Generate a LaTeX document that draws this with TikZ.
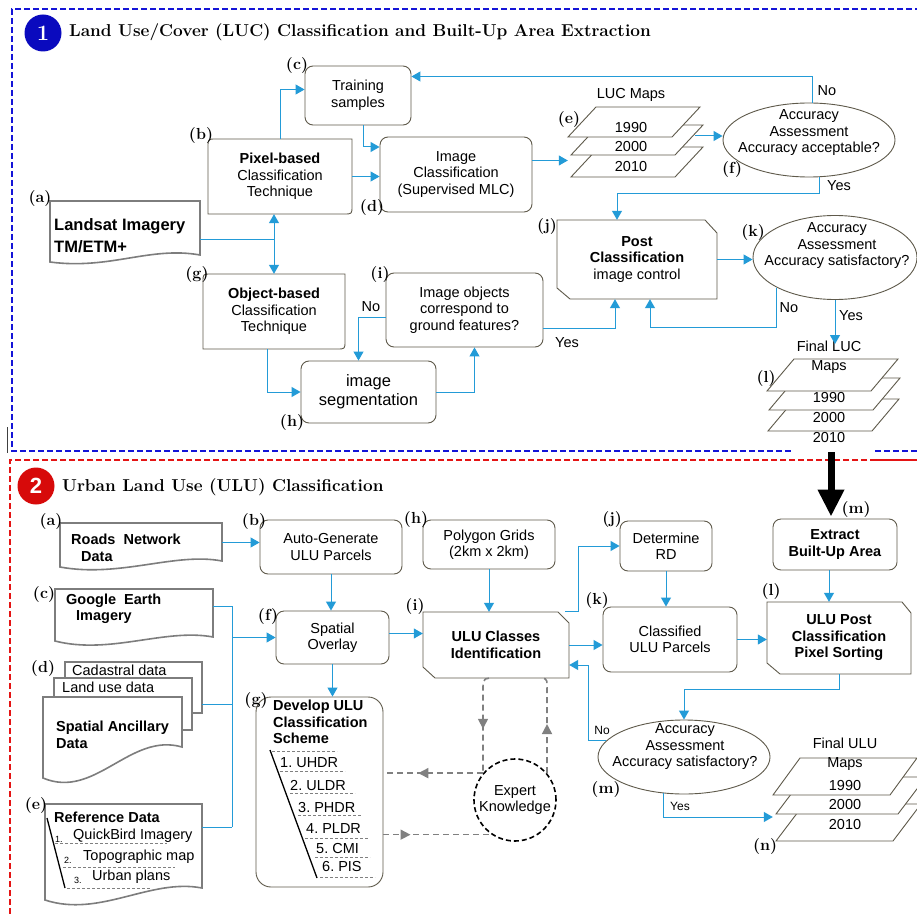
\documentclass[tikz,border=0pt]{standalone}
\usepackage{fontspec}
\newfontfamily\sansf{Liberation Sans}
\usetikzlibrary{arrows.meta,shapes.geometric,decorations.markings}
\definecolor{linec}{RGB}{35,155,215}
\definecolor{boxc}{RGB}{95,90,75}
\definecolor{docc}{RGB}{125,125,125}
\definecolor{gdc}{RGB}{128,128,128}
\definecolor{fblue}{RGB}{20,20,215}
\definecolor{fred}{RGB}{228,20,20}
\definecolor{cblue}{RGB}{10,10,190}
\definecolor{cred}{RGB}{215,10,10}
\newcommand\bodyf{\sansf\fontsize{14.5}{16.5}\selectfont}
\newcommand\smallf{\sansf\fontsize{12}{14}\selectfont}
\newcommand\tinyf{\sansf\fontsize{9}{10}\selectfont}
\newcommand\labf{\rmfamily\bfseries\fontsize{16}{16}\selectfont}
\newcommand\titf{\rmfamily\bfseries\fontsize{17.2}{20}\selectfont}
\newcommand\mypara[5]{\draw[boxline] (#1,#2) -- ++(#3,0) -- ++(#4,-#5) -- ++(-#3,0) -- cycle;}
\tikzset{
  boxline/.style={draw=boxc, line width=0.9pt, fill=white},
  box/.style={boxline, rounded corners=8pt, align=center, font=\bodyf, inner sep=0pt},
  plain/.style={align=center, font=\bodyf, inner sep=0pt},
  txt/.style={font=\bodyf, inner sep=0pt, align=center},
  ltxt/.style={font=\bodyf, inner sep=0pt, align=left, anchor=west},
  lab/.style={font=\labf, inner sep=0pt},
  ell/.style={draw=boxc, line width=0.9pt, fill=white, ellipse, inner sep=0pt},
  docline/.style={draw=docc, line width=1.6pt, fill=white},
  conn/.style={draw=linec, line width=1pt},
  arr/.style={conn, -{Triangle[length=9pt,width=10pt]}},
  gd/.style={draw, color=gdc, line width=1.6pt, dash pattern=on 6pt off 4pt},
  gmid/.style={postaction={decorate,decoration={markings,mark=at position #1 with {\arrow{Triangle[length=10pt,width=10pt]}}}}},
  listdash/.style={draw=gray, line width=0.6pt, dash pattern=on 3pt off 2pt},
  diag/.style={draw=black, line width=1.3pt},
  bfrm/.style={draw=fblue, line width=1.8pt, dash pattern=on 6pt off 3pt},
  rfrm/.style={draw=fred, line width=1.8pt, dash pattern=on 6pt off 3pt},
}
\begin{document}
\begin{tikzpicture}[x=1pt,y=-1pt]
\useasboundingbox (0,0) rectangle (917,917);
\clip (0,0) rectangle (917,917);
\fill[white] (0,0) rectangle (917,917);
% frames
\draw[bfrm] (930,9) -- (12,9) -- (12,451) -- (793,451);
\draw[bfrm] (875,451) -- (930,451);
\draw[rfrm] (930,460) -- (10,460) -- (10,930);
\draw[rfrm] (875,460) -- (930,460);
\draw[black!75, line width=0.7pt] (7,427) -- (7,453);
% titles
\node[circle, fill=cblue, minimum size=37pt, inner sep=0pt, text=white, font=\rmfamily\bfseries\fontsize{22}{22}\selectfont] (c1) at (43,33) {1};
\node[anchor=west, font=\titf, inner sep=0pt] (t1) at (69,32) {Land Use/Cover (LUC) Classification and Built-Up Area Extraction};
\node[circle, fill=cred, minimum size=37pt, inner sep=0pt, text=white, font=\sansf\bfseries\fontsize{22}{22}\selectfont] (c2) at (36,486) {2};
\node[anchor=west, font=\titf, inner sep=0pt] (t2) at (62,487) {Urban Land Use (ULU) Classification};

% ================= SECTION 1 =================
\node[box, minimum width=106pt, minimum height=59pt] (train) at (358,95.5) {Training\\samples};
\draw[boxline] (208,147) .. controls (208,139) .. (216,139) -- (352,139) -- (352,206) .. controls (352,214) .. (344,214) -- (208,214) -- cycle;
\node[plain, minimum width=144pt, minimum height=75pt] (pix) at (280,176.5) {\textbf{Pixel-based}\\Classification\\Technique};
\node[box, minimum width=152pt, minimum height=75pt] (imgc) at (456,174.5) {Image\\Classification\\(Supervised MLC)};
\mypara{571}{177}{104}{28}{30}
\mypara{571}{155}{104}{28}{30}
\mypara{568}{137}{104}{28}{30}
\node[plain, minimum width=135pt, minimum height=70pt] (lucmaps) at (635.5,142) {};
\node[txt] (lucmapsT) at (631,95) {LUC Maps};
\node[txt] (l90) at (631,128) {1990};
\node[txt] (l00) at (631,147) {2000};
\node[txt] (l10) at (631,167) {2010};
\node[ell, minimum width=172pt, minimum height=74pt] (accf) at (809,140) {};
\node[txt] (accfT) at (809,133) {Accuracy\\Assessment\\Accuracy acceptable?};
% Landsat
\draw[docline] (50,201) -- (200,201) -- (200,255) .. controls (150,246) and (110,270) .. (50,262) -- cycle;
\node[plain, minimum width=150pt, minimum height=54pt] (landsat) at (125,228) {};
\node[ltxt, font=\sansf\bfseries\fontsize{16.5}{22}\selectfont] (landsatT) at (54,236) {Landsat Imagery\\TM/ETM+};
% object based
\draw[boxline] (203,282) .. controls (203,274) .. (211,274) -- (345,274) -- (345,341) .. controls (345,349) .. (337,349) -- (203,349) -- cycle;
\node[plain, minimum width=142pt, minimum height=75pt] (obj) at (274,311.5) {\textbf{Object-based}\\Classification\\Technique};
\node[box, minimum width=135pt, minimum height=62pt, font=\sansf\fontsize{16.5}{19}\selectfont] (seg) at (368.5,392) {image\\segmentation};
\node[box, minimum width=157pt, minimum height=74pt] (imgobj) at (464.5,310) {Image objects\\correspond to\\ground features?};
\draw[boxline] (557,220) -- (705,220) -- (717,233) -- (717,299) -- (570,299) -- (557,288) -- cycle;
\node[plain, minimum width=160pt, minimum height=79pt] (post) at (637,259.5) {\textbf{Post}\\\textbf{Classification}\\image control};
\node[ell, minimum width=164pt, minimum height=84pt] (acck) at (835,257.5) {};
\node[txt] (acckT) at (837,246) {Accuracy\\Assessment\\Accuracy satisfactory?};
% final LUC maps
\mypara{768}{431}{104}{27}{32}
\mypara{769}{410}{104}{27}{32}
\mypara{767}{391}{104}{27}{32}
\node[plain, minimum width=133pt, minimum height=72pt] (flucmaps) at (833,395) {};
\node[txt] (flucT) at (829,357.5) {Final LUC\\[2.5pt]Maps};
\node[txt] (f90) at (829,398) {1990};
\node[txt] (f00) at (829,418) {2000};
\node[txt] (f10) at (829,438) {2010};

% connectors section 1
\draw[arr] ([xshift=0pt]pix.north) |- ([yshift=6pt]train.west);
\draw[arr] ([xshift=5pt]train.south) |- ([yshift=27.5pt]imgc.west);
\draw[arr] (pix.east) -- (pix.east -| imgc.west);
\coordinate (ie) at ([yshift=14pt]imgc.east);
\draw[arr] (ie) -- (ie -| lucmaps.west);
\coordinate (me) at ([xshift=-8pt,yshift=6pt]lucmaps.east);
\draw[arr] (me) -- (me -| accf.west);
\draw[arr] ([xshift=3pt]accf.north) |- ([yshift=19pt]train.east);
\draw[arr] ([xshift=10pt]accf.south) -- ++(0,16) -| ([xshift=-20pt]post.north);
\coordinate (le) at ([yshift=-11pt]landsat.east);
\coordinate (J) at (le -| obj.north);
\draw[conn] (le) -- (J);
\draw[arr] (J) -- (J |- pix.south);
\draw[arr] (J) -- (obj.north);
\draw[arr] ([xshift=-7pt]obj.south) |- (seg.west);
\draw[arr] (seg.east) -| ([xshift=10pt]imgobj.south);
\draw[arr] ([yshift=-7pt]imgobj.west) -| ([xshift=-10pt]seg.north);
\draw[arr] ([yshift=-18pt]imgobj.east) -| ([xshift=-22pt]post.south);
\draw[arr] (post.east) -- (post.east -| acck.west);
\draw[arr] (acck.south west) -- ++(0,40) -| ([xshift=13pt]post.south);
\draw[arr] (acck.south) -- (acck.south |- 0,344);
\node[txt] (no1) at (827,91) {No};
\node[txt] (yes1) at (839,186) {Yes};
\node[txt] (no2) at (371,307) {No};
\node[txt] (yes2) at (567,343) {Yes};
\node[txt] (no3) at (789,308) {No};
\node[txt] (yes3) at (851,316) {Yes};
% labels section 1
\node[lab] (la) at (40,199) {(a)};
\node[lab] (lb) at (201,136) {(b)};
\node[lab] (lc) at (297,66) {(c)};
\node[lab] (ld) at (372,208) {(d)};
\node[lab] (le1) at (569,120) {(e)};
\node[lab] (lf) at (732,170) {(f)};
\node[lab] (lg) at (197,275) {(g)};
\node[lab] (lh) at (292,423) {(h)};
\node[lab] (li) at (380,275) {(i)};
\node[lab] (lj) at (547,227) {(j)};
\node[lab] (lk) at (753,233) {(k)};
\node[lab] (ll) at (766,379) {(l)};

% ================= SECTION 2 =================
\draw[docline] (60,523) -- (222,523) -- (222,561) .. controls (175,552) and (120,578) .. (60,567) -- cycle;
\node[plain, minimum width=162pt, minimum height=39pt] (roads) at (141,542.5) {};
\node[ltxt] (roadsT) at (71,547.5) {\textbf{Roads~~Network}\\[0.5pt]\hspace*{10pt}\textbf{Data}};
\node[box, minimum width=142pt, minimum height=54pt] (auto) at (331,547) {Auto-Generate\\ULU Parcels};
\node[box, minimum width=132pt, minimum height=49pt] (poly) at (489,544.5) {Polygon Grids\\(2km x 2km)};
\draw[docline] (55,589) -- (213,589) -- (213,637) .. controls (165,628) and (110,655) .. (55,641) -- cycle;
\node[plain, minimum width=158pt, minimum height=49pt] (google) at (134,613.5) {};
\node[ltxt] (googleT) at (66,609) {\textbf{Google~~Earth}\\\hspace*{10pt}\textbf{Imagery}};
% ancillary stack
\draw[docline] (65,662) rectangle (202,713);
\node[plain, minimum width=137pt, minimum height=51pt] (cad) at (133.5,687.5) {};
\draw[docline] (54,678) rectangle (192,730);
\node[plain, minimum width=138pt, minimum height=52pt] (lud) at (123,704) {};
\draw[docline] (43,697) -- (182,697) -- (182,747) .. controls (130,732) and (95,800) .. (43,778) -- cycle;
\node[plain, minimum width=139pt, minimum height=70pt] (ancil) at (112.5,732) {};
\node[ltxt] (cadT) at (72,670) {Cadastral data};
\node[ltxt] (ludT) at (62,687) {Land use data};
\node[ltxt] (ancilT) at (56,735) {\textbf{Spatial Ancillary}\\\textbf{Data}};
% reference data
\draw[docline] (45,804) -- (202,804) -- (202,888) .. controls (150,878) and (100,918) .. (45,900) -- cycle;
\node[plain, minimum width=157pt, minimum height=84pt] (refd) at (123.5,846) {};
\node[ltxt] (refdT) at (54,817) {\textbf{Reference Data}};
\draw[diag] (47,818) -- (65,888);
\node[ltxt, font=\tinyf] (r1n) at (55,839) {1.};
\node[ltxt] (r1) at (73,836) {QuickBird Imagery};
\draw[listdash] (55,843) -- (167,843);
\node[ltxt, font=\tinyf] (r2n) at (64,860) {2.};
\node[ltxt] (r2) at (83,857) {Topographic map};
\draw[listdash] (63,867) -- (175,867);
\node[ltxt, font=\tinyf] (r3n) at (74,880) {3.};
\node[ltxt] (r3) at (92,877) {Urban plans};
\draw[listdash] (67,888) -- (150,888);
% middle
\node[box, minimum width=113pt, minimum height=53pt] (overlay) at (332.5,637.5) {Spatial\\Overlay};
\node[box, rounded corners=15pt, minimum width=127pt, minimum height=190pt] (scheme) at (319.5,792) {};
\node[ltxt] (schemeT) at (273,722) {\textbf{Develop ULU}\\\textbf{Classification}\\\textbf{Scheme}};
\draw[diag] (270,750) -- (317,878);
\draw[listdash] (272,751) -- (337,751);
\node[ltxt] (s1) at (280,763) {1.\hspace{4pt}UHDR};
\draw[listdash] (280,771) -- (345,771);
\node[ltxt] (s2) at (290,785) {2.\hspace{4pt}ULDR};
\draw[listdash] (290,793) -- (355,793);
\node[ltxt] (s3) at (298,807) {3.\hspace{4pt}PHDR};
\draw[listdash] (298,815) -- (362,815);
\node[ltxt] (s4) at (306,829) {4.\hspace{4pt}PLDR};
\draw[listdash] (305,838) -- (368,838);
\node[ltxt] (s5) at (316,848) {5.\hspace{4pt}CMI};
\draw[listdash] (315,857) -- (370,857);
\node[ltxt] (s6) at (322,866) {6.\hspace{4pt}PIS};
\draw[listdash] (320,877) -- (375,877);
\draw[boxline] (423,612) -- (558,612) -- (569,623) -- (569,678) -- (435,678) -- (423,667) -- cycle;
\node[plain, minimum width=146pt, minimum height=66pt] (ulu) at (496,645) {\textbf{ULU Classes}\\\textbf{Identification}};
\node[circle, draw=black, line width=1.6pt, dash pattern=on 5pt off 3pt, minimum size=82pt, inner sep=0pt, align=center, font=\bodyf, fill=white] (expert) at (515,800) {Expert\\Knowledge};
\node[box, minimum width=92pt, minimum height=50pt] (det) at (666,546) {Determine\\RD};
\node[box, minimum width=134pt, minimum height=65pt] (cls) at (670,639.5) {Classified\\ULU Parcels};
\node[box, minimum width=124pt, minimum height=51pt] (extract) at (835,544.5) {\textbf{Extract}\\\textbf{Built-Up Area}};
\draw[boxline] (767,602) -- (902,602) -- (911,613) -- (911,674) -- (780,674) -- (767,663) -- cycle;
\node[plain, minimum width=144pt, minimum height=72pt] (post2) at (839,638) {\textbf{ULU Post}\\\textbf{Classification}\\\textbf{Pixel Sorting}};
\node[ell, minimum width=172pt, minimum height=74pt] (accm) at (684,757) {};
\node[txt] (accmT) at (685,747) {Accuracy\\Assessment\\Accuracy satisfactory?};
% final ULU maps
\mypara{776}{841}{117}{28}{37}
\mypara{776}{814}{122}{28}{37}
\mypara{773}{795}{117}{27}{37}
\node[plain, minimum width=144pt, minimum height=83pt] (ulumaps) at (845,799.5) {};
\node[txt] (fluT) at (845,754.5) {Final ULU\\[2.5pt]Maps};
\node[txt] (u90) at (845,785) {1990};
\node[txt] (u00) at (845,804) {2000};
\node[txt] (u10) at (845,824) {2010};

% connectors section 2
\draw[arr] (roads.east) -- (roads.east -| auto.west);
\draw[arr] (auto.south) -- (auto.south |- overlay.north);
\draw[arr] (poly.south) -- (poly.south |- ulu.north);
\coordinate (bus) at (232,827);
\draw[conn] ([yshift=7.5pt]google.east) -| (bus);
\draw[conn] ([yshift=19pt]refd.east) -- (bus);
\coordinate (ce) at ([yshift=-16.5pt]cad.east);
\draw[conn] (ce) -- (ce -| bus);
\draw[arr] (bus |- overlay.west) -- (overlay.west);
\coordinate (oe) at ([yshift=4pt]overlay.east);
\draw[arr] (oe) -- (oe -| ulu.west);
\draw[arr] (overlay.south) -- (overlay.south |- scheme.north);
\draw[arr] ([xshift=-4pt]ulu.north east) -- ++(13,0) |- (det.west);
\draw[arr] (det.south) -- (det.south |- cls.north);
\draw[arr] (ulu.east) -- (ulu.east -| cls.west);
\draw[arr] (cls.east) -- (cls.east -| post2.west);
\coordinate (xs) at ([xshift=-6pt]extract.south);
\draw[arr] (xs) -- (xs |- post2.north);
\draw[arr] (post2.south) -- ++(0,15) -| (accm.north);
\draw[arr] (accm.168) -- ++(-18,0) |- ([yshift=-20pt]ulu.east);
\draw[arr] (accm.241) |- ([yshift=-17.5pt]ulumaps.west);
\node[txt, font=\smallf] (no4) at (602,730) {No};
\node[txt, font=\smallf] (yes4) at (680,806) {Yes};
% expert knowledge dashed
\draw[gd, gmid=0.55] ([xshift=-7pt]ulu.south) .. controls +(-6,0) and +(0,-8) .. (expert.140 |- 0,690) -- (expert.140);
\draw[gd, gmid=0.5] (expert.40) -- (expert.40 |- 0,690) .. controls +(0,-8) and +(6,0) .. ([xshift=46pt]ulu.south);
\draw[gd, gmid=0.65] (expert.140) -- (expert.140 -| scheme.east);
\draw[gd, gmid=0.25] (scheme.east |- expert.236) -- (expert.236);
% big arrow
\coordinate (bigs) at (831,452);
\draw[line width=7pt, -{Triangle[length=27pt,width=25pt]}] (bigs) -- ([xshift=-4pt,yshift=2pt]extract.north);
% labels section 2
\node[lab] (ma) at (51,522) {(a)};
\node[lab] (mb) at (254,522) {(b)};
\node[lab] (mc) at (44,595) {(c)};
\node[lab] (md) at (43,669) {(d)};
\node[lab] (me1) at (36,805) {(e)};
\node[lab] (mf) at (268,617) {(f)};
\node[lab] (mg) at (256,700) {(g)};
\node[lab] (mh) at (416,520) {(h)};
\node[lab] (mi) at (415,607) {(i)};
\node[lab] (mj) at (612,520) {(j)};
\node[lab] (mk) at (597,601) {(k)};
\node[lab] (mm) at (856,510) {(m)};
\node[lab] (ml) at (771,592) {(l)};
\node[lab] (mm2) at (606,789) {(m)};
\node[lab] (mn) at (765,846) {(n)};
\end{tikzpicture}
\end{document}
